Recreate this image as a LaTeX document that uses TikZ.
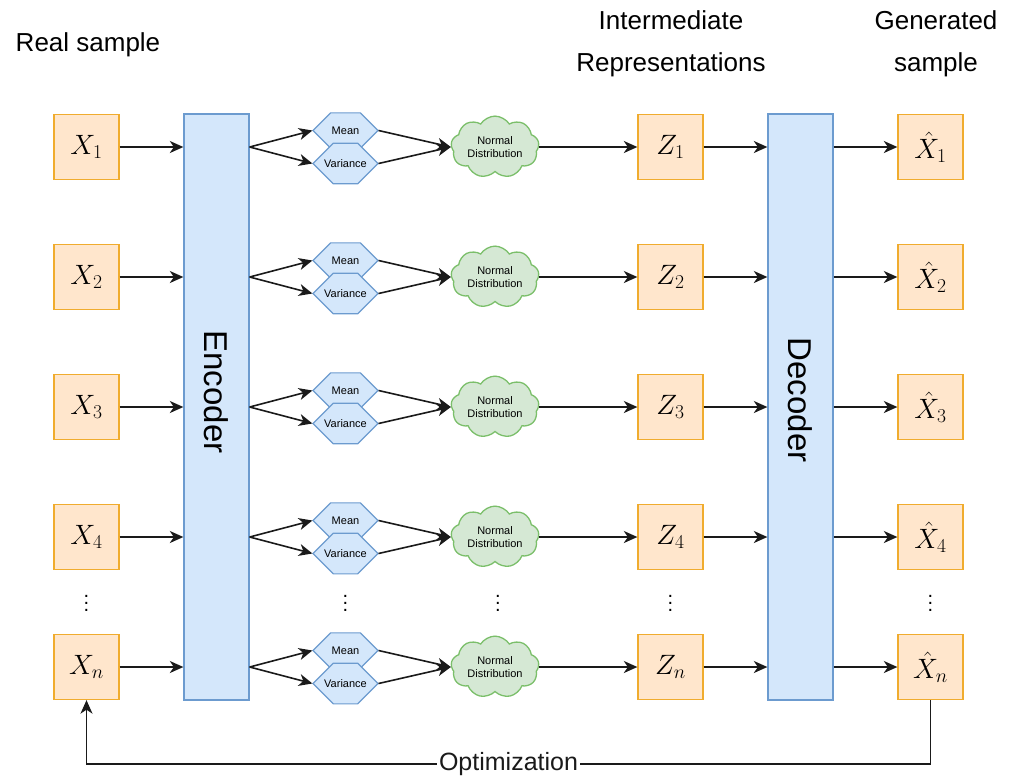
\RequirePackage{fix-cm}
\documentclass[tikz,border=0pt]{standalone}
\usepackage{fontspec}
\setmainfont{Liberation Sans}
\usetikzlibrary{shapes.symbols,shapes.misc,arrows.meta,calc}
\definecolor{ofill}{HTML}{FFE6CC}
\definecolor{ostroke}{HTML}{F0AC2E}
\definecolor{bfill}{HTML}{D4E7FB}
\definecolor{bstroke}{HTML}{6C9BCF}
\definecolor{gfill}{HTML}{D5E8D4}
\definecolor{gstroke}{HTML}{7BBF6A}
\definecolor{lineclr}{HTML}{1A1A1A}
\begin{document}
\begin{tikzpicture}[x=1pt,y=-1pt,
 sbox/.style={draw=ostroke, fill=ofill, line width=1.3pt, minimum width=65pt, minimum height=65pt, inner sep=0pt, font=\fontsize{28}{30}\selectfont},
 coder/.style={draw=bstroke, fill=bfill, line width=1.3pt, minimum width=65pt, minimum height=586pt, inner sep=0pt},
 coderlabel/.style={font=\fontsize{33}{38}\selectfont, rotate=-90},
 hexnode/.style={chamfered rectangle, chamfered rectangle xsep=10pt, chamfered rectangle ysep=16.25pt, draw=bstroke, fill=bfill, line width=1.1pt, minimum width=65pt, minimum height=32.5pt, inner sep=0pt, font=\fontsize{11}{13}\selectfont},
 cloudnode/.style={cloud, cloud puffs=9, cloud puff arc=115, aspect=1.55, draw=gstroke, fill=gfill, line width=1.3pt, minimum width=88pt, minimum height=58pt, inner sep=0pt, align=center, font=\fontsize{11}{13}\selectfont},
 arr/.style={-{Stealth[length=13.5pt,width=12pt,inset=4pt]}, line width=1.6pt, lineclr},
 title/.style={align=center, font=\fontsize{26}{42}\selectfont},
 dotsnode/.style={align=center, inner sep=0pt, font=\fontsize{20}{7}\selectfont}
]
\useasboundingbox (0,0) rectangle (1009,780);

\node[title] (rs) at (88,45) {Real sample};
\node[title] (ir) at (671,44) {Intermediate\\Representations};
\node[title] (gs) at (936,44) {Generated\\sample};

\node[coder] (enc) at (216.5,407) {};
\node[coderlabel] (enclab) at (216.5,392) {Encoder};
\node[coder] (dec) at (800.5,407) {};
\node[coderlabel] (declab) at (800.5,400) {Decoder};

\foreach \i/\y/\lab in {1/147/1, 2/277/2, 3/407/3, 4/537/4, 5/667/n} {
  \node[sbox] (x\i) at (86.5,\y) {$X_{\lab}$};
  \node[hexnode] (m\i) at (345.5,\y-16.5) {Mean};
  \node[hexnode] (v\i) at (345.5,\y+16.5) {Variance};
  \node[cloudnode] (c\i) at (495,\y) {Normal\\Distribution};
  \node[sbox] (z\i) at (670.5,\y) {$Z_{\lab}$};
  \node[sbox] (xh\i) at (930.5,\y) {$\hat{X}_{\lab}$};
  \draw[arr] (x\i.east) -- (x\i.east -| enc.west);
  \draw[arr] (x\i.east -| enc.east) -- (m\i.west);
  \draw[arr] (x\i.east -| enc.east) -- (v\i.west);
  \draw[arr] (m\i.east) -- (c\i.west);
  \draw[arr] (v\i.east) -- (c\i.west);
  \draw[arr] (c\i.east) -- (z\i.west);
  \draw[arr] (z\i.east) -- (z\i.east -| dec.west);
  \draw[arr] (z\i.east -| dec.east) -- (xh\i.west);
}

\node[dotsnode] (d1) at (86.5,603) {.\\.\\.};
\node[dotsnode] (d2) at (345.5,603) {.\\.\\.};
\node[dotsnode] (d3) at (498,603) {.\\.\\.};
\node[dotsnode] (d4) at (670.5,603) {.\\.\\.};
\node[dotsnode] (d5) at (930.5,603) {.\\.\\.};

\coordinate (obot) at (0,764);
\draw[arr] (xh5.south) -- (xh5.south |- obot) -- node[fill=white, inner sep=2pt, font=\fontsize{25}{30}\selectfont] (opt) {Optimization} (x5.south |- obot) -- (x5.south);
\end{tikzpicture}
\end{document}
